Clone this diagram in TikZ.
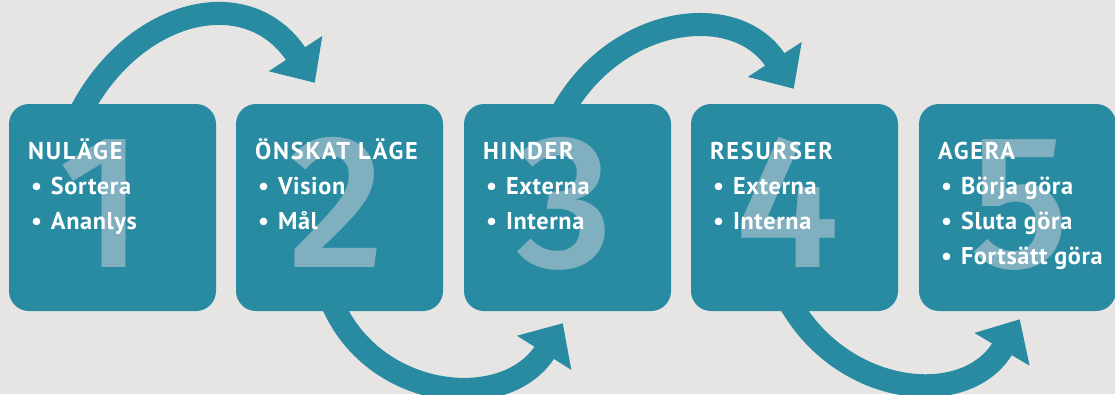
\documentclass[tikz,border=0pt]{standalone}
\usepackage{fontspec}
\setmainfont{PT Sans}
\newfontfamily\digitfont{Fira Sans Medium}
\usetikzlibrary{arrows.meta,calc}
\definecolor{bg}{HTML}{E6E5E3}
\definecolor{tealc}{HTML}{288BA1}
\definecolor{numc}{HTML}{80B0BF}
\newcommand{\bul}{\makebox[23pt][l]{\hspace{3pt}•}}
\newcommand{\hd}[1]{{\addfontfeature{LetterSpace=7.5}#1}}
\newcommand{\bignum}[1]{{\digitfont\fontsize{190}{190}\selectfont #1}}
\begin{document}
\begin{tikzpicture}[x=1pt,y=-1pt,
  stepbox/.style={fill=tealc, rounded corners=20pt, minimum width=207pt, minimum height=207pt, inner sep=0pt},
  num/.style={text=numc, anchor=base, inner sep=0pt},
  txt/.style={text=white, font=\fontsize{24.3}{35}\selectfont\bfseries\addfontfeature{LetterSpace=2.5}, anchor=base west, inner sep=0pt},
  flow/.style={draw=tealc, line width=23pt, -{Triangle[length=35pt,width=62pt]}}]
\fill[bg] (0,0) rectangle (1115,394);
\useasboundingbox (0,0) rectangle (1115,394);
% boxes
\node[stepbox] (b1) at (112.5,207.5) {};
\node[stepbox] (b2) at (339.5,207.5) {};
\node[stepbox] (b3) at (567.5,207.5) {};
\node[stepbox] (b4) at (794.5,207.5) {};
\node[stepbox, minimum width=197pt] (b5) at (1017.5,207.5) {};
% arrow end points
\coordinate (s1) at ($(b1.north)+(-27.5,0)$);
\coordinate (e1) at ($(b2.north west)+(79,-21)$);
\coordinate (s2) at ($(b2.south)+(-3.5,0)$);
\coordinate (e2) at ($(b3.south west)+(99,12)$);
\coordinate (s3) at ($(b3.north)+(-0.5,0)$);
\coordinate (e3) at ($(b4.north west)+(103,-15)$);
\coordinate (s4) at ($(b4.south)+(0.5,0)$);
\coordinate (e4) at ($(b5.south west)+(101,8)$);
% arrows
\draw[flow] ($(s1)+(-6,11)$) -- (s1) .. controls +(55,-96) and +(-66,-100) .. (e1);
\draw[flow] ($(s2)+(-4.5,-9)$) -- (s2) .. controls +(45,90) and +(-56,89) .. (e2);
\draw[flow] ($(s3)+(-6,10)$) -- (s3) .. controls +(55.5,-89) and +(-57,-88) .. (e3);
\draw[flow] ($(s4)+(-5.4,-8.4)$) -- (s4) .. controls +(55.6,86.5) and +(-52.5,88.6) .. (e4);
% numbers
\node[num] (n1) at ($(b1.north)+(-11,164)$) {\bignum{1}};
\node[num] (n2) at ($(b2.north)+(-3,164)$) {\bignum{2}};
\node[num] (n3) at ($(b3.north)+(-3,164)$) {\bignum{3}};
\node[num] (n4) at ($(b4.north)+(-6.5,164)$) {\bignum{4}};
\node[num] (n5) at ($(b5.north)+(2.5,164)$) {\bignum{5}};
% texts
\node[txt] (t1) at ($(b1.north west)+(19,56)$) {\begin{tabular}[t]{@{}l@{}}\hd{NULÄGE}\\ \bul Sortera\\ \bul Ananlys\end{tabular}};
\node[txt] (t2) at ($(b2.north west)+(19,56)$) {\begin{tabular}[t]{@{}l@{}}\hd{ÖNSKAT LÄGE}\\ \bul Vision\\ \bul Mål\end{tabular}};
\node[txt] (t3) at ($(b3.north west)+(19,56)$) {\begin{tabular}[t]{@{}l@{}}\hd{HINDER}\\ \bul Externa\\ \bul Interna\end{tabular}};
\node[txt] (t4) at ($(b4.north west)+(19,56)$) {\begin{tabular}[t]{@{}l@{}}\hd{RESURSER}\\ \bul Externa\\ \bul Interna\end{tabular}};
\node[txt] (t5) at ($(b5.north west)+(19,56)$) {\begin{tabular}[t]{@{}l@{}}\hd{AGERA}\\ \bul Börja göra\\ \bul Sluta göra\\ \bul Fortsätt göra\end{tabular}};
\end{tikzpicture}
\end{document}
